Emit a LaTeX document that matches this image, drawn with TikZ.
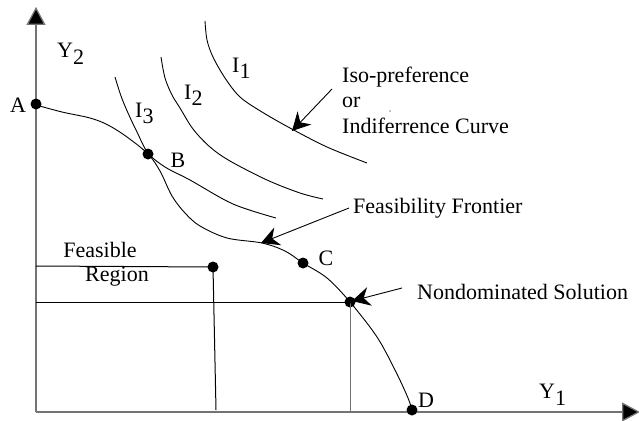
\documentclass[tikz,border=0pt]{standalone}
\usepackage{fontspec}
\setmainfont{Liberation Serif}
\usetikzlibrary{arrows.meta}
\begin{document}
\begin{tikzpicture}[x=1pt,y=-1pt,
  curve/.style={line width=0.9pt, black},
  axis/.style={line width=1.3pt, draw=black!55, -{Triangle[length=18pt,width=19pt,fill=black]}},
  guide/.style={line width=1pt},
  dot/.style={circle, fill=black, inner sep=0pt, minimum size=11pt},
  lbl/.style={font=\fontsize{22}{26}\selectfont, inner sep=0pt},
  pointer/.style={line width=0.9pt, -{Stealth[length=18pt,width=19pt,inset=6pt]}}]
\useasboundingbox (0,0) rectangle (639,420);
% axes
\coordinate (O) at (36,412);
\coordinate (Ytip) at (36,7);
\coordinate (Xtip) at (640,412);
\draw[axis] (O) -- (Ytip);
\draw[axis] (O) -- (Xtip);
% points
\node[dot] (A) at (36,104) {};
\node[dot] (B) at (148,154) {};
\node[dot] (C) at (303,263) {};
\node[dot] (F) at (213,267) {};
\node[dot] (N) at (350,302) {};
\node[dot] (D) at (412,410) {};
\coordinate (Fy) at (36,266);
\coordinate (Fx) at (216,410);
\coordinate (Ny) at (36,302);
\coordinate (Nx) at (350,412);
% feasible region guides
\draw[guide] (Fy) -- (F.center);
\draw[guide] (F.center) -- (Fx);
\draw[guide] (Ny) -- (N.center);
\draw[guide, draw=black!55] (N.center) -- (Nx);
% frontier
\draw[curve] plot[smooth, tension=0.55] coordinates {(36,105) (62,112) (90,118) (108,125) (127,137) (148,154) (160,171) (172,196) (185,213) (200,226) (227,238) (262,243) (285,251) (303,263) (327,278) (350,302) (377,337) (396,372) (408,398) (412,410)};
% indifference curves
\draw[curve] plot[smooth, tension=0.55] coordinates {(115,77) (121,96) (128,113) (137,132) (148,153) (165,167) (190,180) (233,204) (276,218)};
\draw[curve] plot[smooth, tension=0.55] coordinates {(161,57) (165,78) (172,95) (180,108) (193,129) (210,147) (230,161) (267,180) (300,193) (323,199)};
\draw[curve] plot[smooth, tension=0.55] coordinates {(205,21) (207,40) (213,57) (225,78) (240,97) (262,112) (290,128) (327,147) (367,163)};
% labels
\node[lbl] (lA) at (18,105) {A};
\node[lbl] (lB) at (178,160) {B};
\node[lbl] (lC) at (326,258) {C};
\node[lbl] (lD) at (426,400) {D};
\node[lbl, anchor=base west] (lY2) at (57,57) {Y\raisebox{-0.33em}{2}};
\node[lbl, anchor=base west] (lY1) at (539,398) {Y\raisebox{-0.33em}{1}};
\node[lbl, anchor=base west] (lI1) at (232,72) {I\raisebox{-0.3em}{1}};
\node[lbl, anchor=base west] (lI2) at (184,99) {I\raisebox{-0.3em}{2}};
\node[lbl, anchor=base west] (lI3) at (135,117) {I\raisebox{-0.3em}{3}};
\node[lbl] (lFeas) at (100,250) {Feasible};
\node[lbl] (lReg) at (117,277) {Region};
\node[lbl, anchor=base west] (lIso) at (342,82) {Iso-preference};
\node[lbl, anchor=base west] (lOr) at (342,107.5) {or};
\node[lbl, anchor=base west] (lInd) at (342,133) {Indiferrence Curve};
\fill (390,111) circle (0.7);
\node[lbl, anchor=base west] (lFF) at (353,213) {Feasibility Frontier};
\node[lbl, anchor=base west] (lND) at (417,299) {Nondominated Solution};
% pointers
\coordinate (isoT) at (332,89);
\coordinate (isoH) at (292,131);
\coordinate (ffT) at (349,208);
\coordinate (ffH) at (261,243);
\coordinate (ndT) at (402,288);
\coordinate (ndH) at (352,301);
\draw[pointer] (isoT) -- (isoH);
\draw[pointer] (ffT) -- (ffH);
\draw[pointer] (ndT) -- (ndH);
\end{tikzpicture}
\end{document}
